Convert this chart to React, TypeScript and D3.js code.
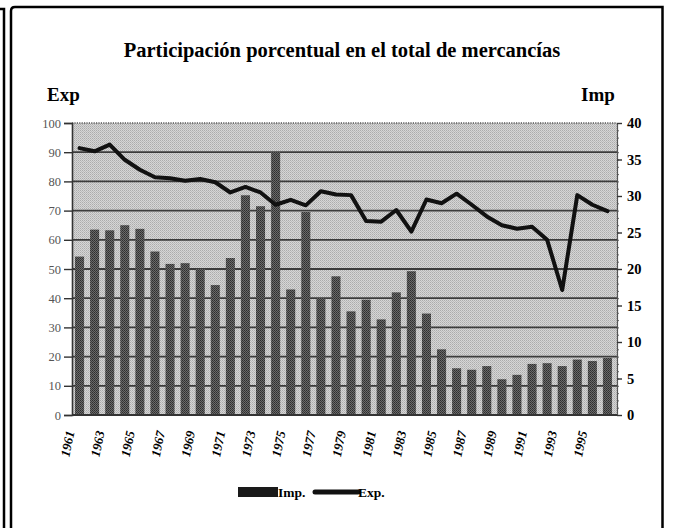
import React from "react";
import * as d3 from "d3";

const WIDTH = 674;
const HEIGHT = 528;
const PLOT = { left: 72, right: 617, top: 123, bottom: 415 };

const TITLE = "Participación porcentual en el total de mercancías";

const years = [
  1961, 1962, 1963, 1964, 1965, 1966, 1967, 1968, 1969, 1970, 1971, 1972,
  1973, 1974, 1975, 1976, 1977, 1978, 1979, 1980, 1981, 1982, 1983, 1984,
  1985, 1986, 1987, 1988, 1989, 1990, 1991, 1992, 1993, 1994, 1995, 1996,
];

// Imp. (right axis, 0-40) drawn as bars
const imp = [
  21.7, 25.4, 25.3, 26.0, 25.5, 22.4, 20.7, 20.8, 20.0, 17.8, 21.5, 30.1,
  28.6, 36.0, 17.2, 27.8, 16.0, 19.0, 14.2, 15.8, 13.1, 16.8, 19.7, 13.9,
  9.0, 6.4, 6.2, 6.7, 4.9, 5.5, 7.0, 7.1, 6.7, 7.6, 7.4, 7.8,
];

// Exp. (left axis, 0-100) drawn as a line
const exp = [
  91.4, 90.3, 92.6, 87.4, 84.0, 81.4, 81.1, 80.2, 80.8, 79.7, 76.2, 78.1,
  76.2, 72.0, 73.7, 71.8, 76.6, 75.5, 75.3, 66.4, 66.2, 70.2, 62.8, 73.8,
  72.5, 75.8, 72.0, 68.0, 65.0, 63.8, 64.5, 60.0, 42.8, 75.3, 72.0, 69.8,
];

const leftTicks = [0, 10, 20, 30, 40, 50, 60, 70, 80, 90, 100];
const rightTicks = [0, 5, 10, 15, 20, 25, 30, 35, 40];
const yearLabels = [
  1961, 1963, 1965, 1967, 1969, 1971, 1973, 1975, 1977, 1979, 1981, 1983,
  1985, 1987, 1989, 1991, 1993, 1995,
];

const SERIF = "'Liberation Serif', 'Times New Roman', serif";

const App = () => {
  const ref = React.useRef<SVGSVGElement>(null);

  React.useEffect(() => {
    const svg = d3.select(ref.current!);
    svg.selectAll("*").remove();

    const defs = svg.append("defs");
    const bg = defs
      .append("pattern")
      .attr("id", "bgDots")
      .attr("width", 2)
      .attr("height", 2)
      .attr("patternUnits", "userSpaceOnUse");
    bg.append("rect").attr("width", 2).attr("height", 2).attr("fill", "#d6d6d6");
    bg.append("rect").attr("width", 1).attr("height", 1).attr("fill", "#acacac");
    bg.append("rect").attr("x", 1).attr("y", 1).attr("width", 1).attr("height", 1).attr("fill", "#bcbcbc");

    const bp = defs
      .append("pattern")
      .attr("id", "barDots")
      .attr("width", 2)
      .attr("height", 2)
      .attr("patternUnits", "userSpaceOnUse");
    bp.append("rect").attr("width", 2).attr("height", 2).attr("fill", "#6a6a6a");
    bp.append("rect").attr("width", 1).attr("height", 1).attr("fill", "#2e2e2e");
    bp.append("rect").attr("x", 1).attr("y", 1).attr("width", 1).attr("height", 1).attr("fill", "#3a3a3a");

    // frames
    svg
      .append("path")
      .attr("d", `M0,9 H4 V${HEIGHT}`)
      .attr("fill", "none")
      .attr("stroke", "#000")
      .attr("stroke-width", 2.5);
    svg
      .append("path")
      .attr("d", `M11,${HEIGHT} V11 Q11,7 15,7 H662.5 V${HEIGHT}`)
      .attr("fill", "none")
      .attr("stroke", "#000")
      .attr("stroke-width", 2.5);

    const x = d3
      .scaleBand<number>()
      .domain(years)
      .range([PLOT.left, PLOT.right - 2])
      .paddingInner(0.4)
      .paddingOuter(0.2);
    const yLeft = d3.scaleLinear().domain([0, 100]).range([PLOT.bottom, PLOT.top]);
    const yRight = d3.scaleLinear().domain([0, 40]).range([PLOT.bottom, PLOT.top]);

    svg
      .append("rect")
      .attr("x", PLOT.left)
      .attr("y", PLOT.top)
      .attr("width", PLOT.right - PLOT.left)
      .attr("height", PLOT.bottom - PLOT.top)
      .attr("fill", "url(#bgDots)");

    // grid lines
    svg
      .append("g")
      .selectAll("line")
      .data(leftTicks.filter((t) => t > 0 && t < 100))
      .join("line")
      .attr("x1", PLOT.left)
      .attr("x2", PLOT.right)
      .attr("y1", (d) => yLeft(d))
      .attr("y2", (d) => yLeft(d))
      .attr("stroke", "#3c3c3c")
      .attr("stroke-width", 1.8);
    svg
      .append("line")
      .attr("x1", PLOT.left)
      .attr("x2", PLOT.right)
      .attr("y1", yLeft(100))
      .attr("y2", yLeft(100))
      .attr("stroke", "#555")
      .attr("stroke-width", 1.5)
      .attr("stroke-dasharray", "1.2,1.2");

    // bars
    svg
      .append("g")
      .selectAll("rect")
      .data(imp)
      .join("rect")
      .attr("x", (_, i) => x(years[i])!)
      .attr("width", x.bandwidth())
      .attr("y", (d) => yRight(d))
      .attr("height", (d) => PLOT.bottom - yRight(d))
      .attr("fill", "url(#barDots)");

    // line
    const line = d3
      .line<number>()
      .x((_, i) => x(years[i])! + x.bandwidth() / 2)
      .y((d) => yLeft(d));
    svg
      .append("path")
      .datum(exp)
      .attr("d", line)
      .attr("fill", "none")
      .attr("stroke", "#111")
      .attr("stroke-width", 4)
      .attr("stroke-linejoin", "round")
      .attr("stroke-linecap", "round");

    // left axis
    const left = svg
      .append("g")
      .attr("transform", `translate(${PLOT.left},0)`)
      .call(d3.axisLeft(yLeft).tickValues(leftTicks).tickSize(8).tickPadding(3));
    left.select(".domain").attr("stroke", "#333").attr("stroke-width", 1.6);
    left.selectAll(".tick line").attr("stroke", "#333").attr("stroke-width", 1.4);
    left
      .selectAll(".tick text")
      .attr("font-family", SERIF)
      .attr("font-size", 12.5)
      .attr("fill", "#555");

    // right axis, minor ticks first
    svg
      .append("g")
      .attr("transform", `translate(${PLOT.right},0)`)
      .call(d3.axisRight(yRight).ticks(40).tickSize(2).tickFormat(() => ""))
      .call((g) => g.select(".domain").remove())
      .selectAll(".tick line")
      .attr("stroke", "#666");
    const right = svg
      .append("g")
      .attr("transform", `translate(${PLOT.right},0)`)
      .call(d3.axisRight(yRight).tickValues(rightTicks).tickSize(5).tickPadding(5));
    right.select(".domain").attr("stroke", "#555").attr("stroke-width", 1.2);
    right.selectAll(".tick line").attr("stroke", "#333").attr("stroke-width", 1.4);
    right
      .selectAll(".tick text")
      .attr("font-family", SERIF)
      .attr("font-size", 14.5)
      .attr("font-weight", "bold")
      .attr("fill", "#000");

    // bottom axis
    svg
      .append("line")
      .attr("x1", PLOT.left)
      .attr("x2", PLOT.right)
      .attr("y1", PLOT.bottom)
      .attr("y2", PLOT.bottom)
      .attr("stroke", "#333")
      .attr("stroke-width", 2);

    svg
      .append("g")
      .selectAll("text")
      .data(yearLabels)
      .join("text")
      .attr(
        "transform",
        (d) => `translate(${x(d)! + x.bandwidth() / 2 - 5},${PLOT.bottom + 17}) rotate(-78)`
      )
      .attr("text-anchor", "end")
      .attr("font-family", SERIF)
      .attr("font-size", 13)
      .attr("font-weight", "bold")
      .attr("font-style", "italic")
      .text((d) => d);

    // titles
    svg
      .append("text")
      .attr("x", 342)
      .attr("y", 57)
      .attr("text-anchor", "middle")
      .attr("font-family", SERIF)
      .attr("font-size", 20.5)
      .attr("font-weight", "bold")
      .text(TITLE);
    svg
      .append("text")
      .attr("x", 47)
      .attr("y", 101)
      .attr("font-family", SERIF)
      .attr("font-size", 19)
      .attr("font-weight", "bold")
      .text("Exp");
    svg
      .append("text")
      .attr("x", 581)
      .attr("y", 101)
      .attr("font-family", SERIF)
      .attr("font-size", 19)
      .attr("font-weight", "bold")
      .text("Imp");

    // legend
    const lg = svg.append("g").attr("transform", "translate(0,492)");
    lg.append("rect")
      .attr("x", 238)
      .attr("y", -5)
      .attr("width", 40)
      .attr("height", 10)
      .attr("fill", "#1a1a1a");
    lg.append("text")
      .attr("x", 278)
      .attr("y", 5)
      .attr("font-family", SERIF)
      .attr("font-size", 13.5)
      .attr("font-weight", "bold")
      .text("Imp.");
    lg.append("line")
      .attr("x1", 315)
      .attr("x2", 358)
      .attr("y1", 0)
      .attr("y2", 0)
      .attr("stroke", "#111")
      .attr("stroke-width", 5)
      .attr("stroke-linecap", "round");
    lg.append("text")
      .attr("x", 358)
      .attr("y", 5)
      .attr("font-family", SERIF)
      .attr("font-size", 13.5)
      .attr("font-weight", "bold")
      .text("Exp.");
  }, []);

  return (
    <svg
      ref={ref}
      width={WIDTH}
      height={HEIGHT}
      style={{ position: "absolute", left: 0, top: 0, background: "#fff" }}
    />
  );
};

export default App;
